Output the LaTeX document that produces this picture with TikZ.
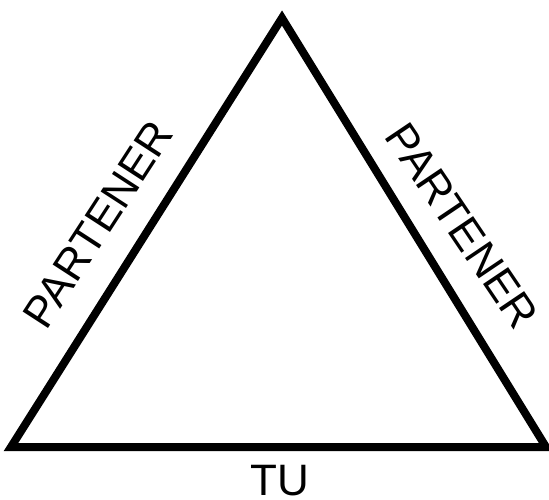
\documentclass[tikz,border=0pt]{standalone}
\usepackage{fontspec}
\setmainfont{Liberation Sans}
\begin{document}
\begin{tikzpicture}[x=1pt,y=-1pt,
  side/.style={line width=8pt, line join=miter},
  lbl/.style={font=\fontsize{44}{44}\selectfont, inner sep=0pt}]
\useasboundingbox (0,0) rectangle (549,500);
\coordinate (A) at (282,18);
\coordinate (B) at (11,447);
\coordinate (C) at (546,447);
\draw[side] (A) -- (B) -- (C) -- cycle;
\node[lbl, rotate=57] (L) at (98,224) {PARTENER};
\node[lbl, rotate=-56] (R) at (462,226) {PARTENER};
\node[lbl] (T) at (280,481) {TU};
\end{tikzpicture}
\end{document}
